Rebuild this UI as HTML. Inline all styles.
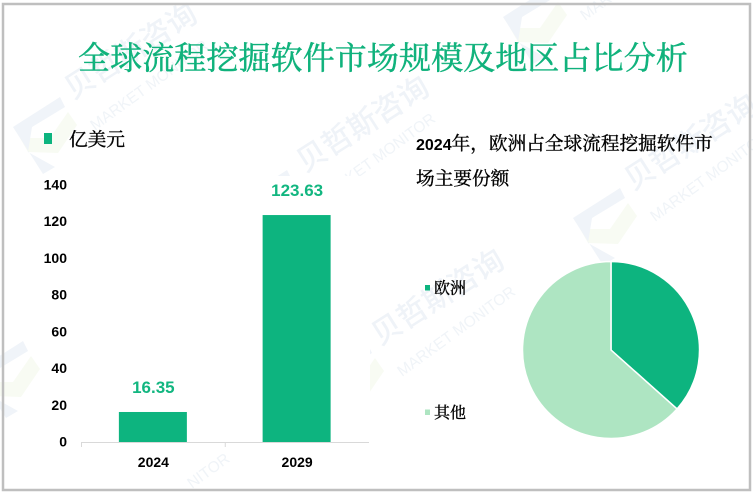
<!DOCTYPE html>
<html lang="zh">
<head>
<meta charset="utf-8">
<title>全球流程挖掘软件市场规模及地区占比分析</title>
<style>
html,body{margin:0;padding:0;background:#fff;width:753px;height:493px;overflow:hidden;}
#stage{display:block;width:753px;height:493px;overflow:hidden;}
.cjk{font-family:"Liberation Serif","Noto Serif CJK SC",serif;}
.num{font-family:"Liberation Sans","Noto Sans CJK SC",sans-serif;font-weight:bold;}
.wm-cn{font-family:"Liberation Sans","Noto Sans CJK SC",sans-serif;font-size:30px;font-weight:500;fill:#eff3f8;}
.wm-en{font-family:"Liberation Sans",sans-serif;font-size:15.5px;fill:#f0f4f8;}
.wm-blue{fill:#f0f4f9;}
.wm-green{fill:#f8fbf3;}
</style>
</head>
<body>
<svg id="stage" xmlns="http://www.w3.org/2000/svg" width="753" height="493" viewBox="0 0 753 493">
  <rect x="0" y="0" width="753" height="493" fill="#ffffff"/>

  <g>
  <g transform="translate(13,127)">
    <polygon class="wm-green" points="7,11 37,11 55,-15 64,-2 45,26 15,25"/>
    <polygon class="wm-blue" points="0,0 47,-30 52,-20 19,0 15,25 42,40 30,47"/>
    <text class="wm-cn" transform="translate(60,-27) rotate(-32.5)">贝哲斯咨询</text>
    <text class="wm-en" transform="translate(82,4) rotate(-36)">MARKET MONITOR</text>
  </g>
  <g transform="translate(240,200)">
    <polygon class="wm-green" points="7,11 37,11 55,-15 64,-2 45,26 15,25"/>
    <polygon class="wm-blue" points="0,0 47,-30 52,-20 19,0 15,25 42,40 30,47"/>
    <text class="wm-cn" transform="translate(65,-27) rotate(-32.5)">贝哲斯咨询</text>
    <text class="wm-en" transform="translate(82,4) rotate(-36)">MARKET MONITOR</text>
  </g>
  <g transform="translate(503,17)">
    <polygon class="wm-green" points="7,11 37,11 55,-15 64,-2 45,26 15,25"/>
    <polygon class="wm-blue" points="0,0 47,-30 52,-20 19,0 15,25 42,40 30,47"/>
    <text class="wm-en" transform="translate(82,4) rotate(-36)">MARKET MONITOR</text>
  </g>
  <g transform="translate(573,218)">
    <polygon class="wm-green" points="7,11 37,11 55,-15 64,-2 45,26 15,25"/>
    <polygon class="wm-blue" points="0,0 47,-30 52,-20 19,0 15,25 42,40 30,47"/>
    <text class="wm-cn" transform="translate(60,-27) rotate(-32.5)">贝哲斯咨询</text>
    <text class="wm-en" transform="translate(82,4) rotate(-36)">MARKET MONITOR</text>
  </g>
  <g transform="translate(320,373)">
    <polygon class="wm-green" points="7,11 37,11 55,-15 64,-2 45,26 15,25"/>
    <polygon class="wm-blue" points="0,0 47,-30 52,-20 19,0 15,25 42,40 30,47"/>
    <text class="wm-cn" transform="translate(60,-27) rotate(-32.5)">贝哲斯咨询</text>
    <text class="wm-en" transform="translate(82,4) rotate(-36)">MARKET MONITOR</text>
  </g>
  <g transform="translate(-24,371)">
    <polygon class="wm-green" points="7,11 37,11 55,-15 64,-2 45,26 15,25"/>
    <polygon class="wm-blue" points="0,0 47,-30 52,-20 19,0 15,25 42,40 30,47"/>
  </g>
  </g>

  <rect x="41" y="176" width="329" height="302" fill="#ffffff"/>
  <rect x="517" y="262" width="231" height="227" fill="#ffffff"/>

  <text class="wm-en" transform="translate(192,489) rotate(-36)">NITOR</text>

  <rect x="3" y="4" width="747" height="486" fill="none" stroke="#bfbfbf" stroke-width="2.5"/>

  <text class="cjk" x="78" y="69" font-size="32" fill="#10b27c" stroke="#10b27c" stroke-width="0.45" letter-spacing="0.1">全球流程挖掘软件市场规模及地区占比分析</text>

  <rect x="44" y="133" width="8" height="11" fill="#0db47f"/>
  <text class="cjk" x="69" y="146" font-size="18.67" fill="#000" stroke="#000" stroke-width="0.35">亿美元</text>

  <text class="cjk" x="416" y="150" font-size="18.67" fill="#000" stroke="#000" stroke-width="0.35"><tspan class="num" font-size="16" stroke="none">2024</tspan>年，欧洲占全球流程挖掘软件市</text>
  <text class="cjk" x="416" y="185" font-size="18.67" fill="#000" stroke="#000" stroke-width="0.35">场主要份额</text>

  <g id="bar-chart"></g>
  <g id="pie-chart"></g>
</svg>

<script>
const barCategories = ['2024', '2029'];
const barValues = [16.35, 123.63];
const barLabels = ['16.35', '123.63'];
const yTicks = [0, 20, 40, 60, 80, 100, 120, 140];
const pieNames = ['欧洲', '其他'];
const pieValues = [36.6, 63.4];

const SVG_NS = 'http://www.w3.org/2000/svg';
const BAR_COLOR = '#0db47f';
const PIE_COLORS = ['#0db47f', '#aee5c2'];
const plot = { left: 81.5, right: 369, base: 442, top: 185, max: 140 };

function make(tag, attrs, parent, content) {
  const el = document.createElementNS(SVG_NS, tag);
  for (const k in attrs) el.setAttribute(k, attrs[k]);
  if (content !== undefined) el.textContent = content;
  parent.appendChild(el);
  return el;
}
function yScale(v) {
  return plot.base - (v / plot.max) * (plot.base - plot.top);
}
function bandWidth() {
  return (plot.right - plot.left) / barCategories.length;
}
function xCenter(i) {
  return plot.left + bandWidth() * (i + 0.5);
}

const barRoot = document.getElementById('bar-chart');

yTicks.forEach(function (t) {
  const el = make('text', { x: 67, y: yScale(t) + 4.5, 'text-anchor': 'end', 'font-size': 14, fill: '#000', class: 'num' }, barRoot, String(t));
  
  
});

const axisLine = make('line', { x1: plot.left, x2: plot.right, y1: plot.base + 0.5, y2: plot.base + 0.5, stroke: '#d9d9d9', 'stroke-width': 1 }, barRoot);



for (let i = 0; i < barCategories.length; i++) {
  const tx = plot.left + bandWidth() * i;
  const tick = make('line', { x1: tx, x2: tx, y1: plot.base, y2: plot.base + 5, stroke: '#d9d9d9', 'stroke-width': 1 }, barRoot);
  
  
}

barCategories.forEach(function (c, i) {
  const w = 68;
  const cx = xCenter(i) - 0.5;
  const top = yScale(barValues[i]);
  const bar = make('rect', { x: cx - w / 2, y: top, width: w, height: plot.base - top, fill: BAR_COLOR }, barRoot);
  
  

  const val = make('text', { x: cx + 0.5, y: top - 19, 'text-anchor': 'middle', 'font-size': 17, fill: '#12b680', class: 'num' }, barRoot, barLabels[i]);
  
  

  const cat = make('text', { x: cx + 0.5, y: 467, 'text-anchor': 'middle', 'font-size': 14, fill: '#000', class: 'num' }, barRoot, c);
  
  
});

const pieRoot = document.getElementById('pie-chart');
const pieGeom = { cx: 611, cy: 350, r: 88.5 };
const pieTotal = pieValues.reduce(function (a, b) { return a + b; }, 0);
let angle = 0;
pieValues.forEach(function (v, i) {
  const start = angle;
  const end = angle + (v / pieTotal) * Math.PI * 2;
  angle = end;
  const x1 = pieGeom.cx + pieGeom.r * Math.sin(start);
  const y1 = pieGeom.cy - pieGeom.r * Math.cos(start);
  const x2 = pieGeom.cx + pieGeom.r * Math.sin(end);
  const y2 = pieGeom.cy - pieGeom.r * Math.cos(end);
  const large = end - start > Math.PI ? 1 : 0;
  const d = 'M' + pieGeom.cx + ' ' + pieGeom.cy + ' L' + x1 + ' ' + y1 + ' A' + pieGeom.r + ' ' + pieGeom.r + ' 0 ' + large + ' 1 ' + x2 + ' ' + y2 + ' Z';
  const slice = make('path', { d: d, fill: PIE_COLORS[i], stroke: '#ffffff', 'stroke-width': 1.5 }, pieRoot);
  
  

  const ly = [287.5, 412][i];
  const sw = make('rect', { x: 425, y: ly - 2.5, width: 5, height: 5.5, fill: PIE_COLORS[i] }, pieRoot);
  
  

  const lab = make('text', { x: 434, y: ly + 6, 'font-size': 16, fill: '#000', stroke: '#000', 'stroke-width': 0.35, class: 'cjk' }, pieRoot, pieNames[i]);
  
  
});
</script>
</body>
</html>
